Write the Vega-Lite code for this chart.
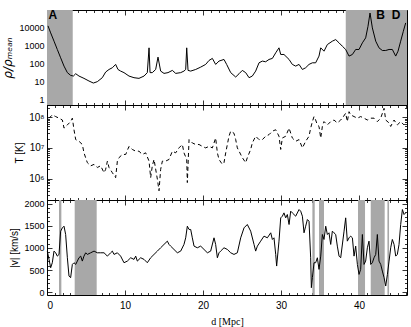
{
  "$schema": "https://vega.github.io/schema/vega-lite/v6.json",
  "background": "white",
  "padding": {"left": 1, "right": 3, "top": 8, "bottom": 4},
  "spacing": 0,
  "bounds": "flush",
  "datasets": {
    "rho": [{"d":0.13,"rho":13000},{"d":0.47,"rho":5300},{"d":0.9,"rho":1820},{"d":1.32,"rho":627},{"d":1.75,"rho":215},{"d":2.18,"rho":74},{"d":2.61,"rho":32},{"d":3.03,"rho":22.5},{"d":3.38,"rho":20.6},{"d":3.68,"rho":27.8},{"d":4.1,"rho":20.6},{"d":4.74,"rho":15.3},{"d":5.38,"rho":10.9},{"d":5.94,"rho":8.4},{"d":6.45,"rho":10},{"d":7.09,"rho":16.7},{"d":7.52,"rho":34.6},{"d":7.95,"rho":48},{"d":8.38,"rho":60},{"d":8.8,"rho":92},{"d":9.1,"rho":48},{"d":9.44,"rho":39},{"d":9.87,"rho":32},{"d":10.51,"rho":20.6},{"d":11.15,"rho":16.7},{"d":11.79,"rho":15.3},{"d":12.44,"rho":20.6},{"d":12.86,"rho":32},{"d":13.08,"rho":774},{"d":13.21,"rho":32},{"d":13.5,"rho":32},{"d":13.93,"rho":48},{"d":14.23,"rho":235},{"d":14.57,"rho":39},{"d":15.0,"rho":29},{"d":15.51,"rho":32},{"d":16.07,"rho":42.6},{"d":16.5,"rho":29},{"d":17.14,"rho":32},{"d":17.56,"rho":39},{"d":17.78,"rho":48},{"d":17.91,"rho":774},{"d":18.08,"rho":42.6},{"d":18.42,"rho":39},{"d":19.06,"rho":48},{"d":19.7,"rho":65},{"d":20.34,"rho":92},{"d":20.77,"rho":153},{"d":21.2,"rho":199},{"d":21.62,"rho":92},{"d":22.05,"rho":141},{"d":22.69,"rho":174},{"d":23.03,"rho":92},{"d":23.55,"rho":32},{"d":24.19,"rho":18.2},{"d":24.62,"rho":27.8},{"d":25.04,"rho":42.6},{"d":25.47,"rho":32},{"d":25.9,"rho":16.7},{"d":26.32,"rho":20.6},{"d":26.75,"rho":39},{"d":27.18,"rho":113},{"d":27.61,"rho":141},{"d":28.03,"rho":129},{"d":28.46,"rho":174},{"d":28.89,"rho":199},{"d":29.32,"rho":408},{"d":29.74,"rho":774},{"d":29.96,"rho":330},{"d":30.38,"rho":330},{"d":31.03,"rho":174},{"d":31.45,"rho":92},{"d":31.88,"rho":74},{"d":32.31,"rho":92},{"d":32.74,"rho":48},{"d":33.16,"rho":60},{"d":33.59,"rho":92},{"d":34.02,"rho":113},{"d":34.44,"rho":113},{"d":34.87,"rho":268},{"d":35.09,"rho":774},{"d":35.51,"rho":504},{"d":35.94,"rho":1180},{"d":36.58,"rho":1820},{"d":37.01,"rho":2240},{"d":37.44,"rho":1470},{"d":37.86,"rho":955},{"d":38.29,"rho":627},{"d":38.72,"rho":268},{"d":39.15,"rho":330},{"d":39.57,"rho":627},{"d":40.0,"rho":627},{"d":40.43,"rho":1470},{"d":40.85,"rho":2780},{"d":41.15,"rho":12300},{"d":41.41,"rho":68000},{"d":41.71,"rho":10000},{"d":42.14,"rho":1820},{"d":42.56,"rho":774},{"d":42.99,"rho":550},{"d":43.42,"rho":550},{"d":43.85,"rho":627},{"d":44.27,"rho":627},{"d":44.7,"rho":268},{"d":45.0,"rho":504},{"d":45.34,"rho":1820},{"d":45.68,"rho":6500},{"d":45.98,"rho":19000}],
    "temp": [{"d":0.26,"T":9.3e7},{"d":0.68,"T":1.19e8},{"d":1.11,"T":1.05e8},{"d":1.54,"T":9.3e7},{"d":1.97,"T":8.1e7},{"d":2.18,"T":4.4e7},{"d":2.61,"T":5.6e7},{"d":3.03,"T":7.2e7},{"d":3.25,"T":9.3e7},{"d":3.46,"T":3.9e7},{"d":3.68,"T":1.86e7},{"d":4.1,"T":1.64e7},{"d":4.53,"T":1.29e7},{"d":4.74,"T":6.9e6},{"d":5.17,"T":3.3e6},{"d":5.6,"T":2.6e6},{"d":6.03,"T":2.9e6},{"d":6.45,"T":2.3e6},{"d":6.88,"T":2.6e6},{"d":7.31,"T":1.55e6},{"d":7.52,"T":2.0e6},{"d":7.74,"T":3.7e6},{"d":7.95,"T":2.3e6},{"d":8.38,"T":1.55e6},{"d":8.8,"T":1.07e6},{"d":9.02,"T":3.7e6},{"d":9.23,"T":4.8e6},{"d":9.66,"T":6.1e6},{"d":10.09,"T":6.1e6},{"d":10.51,"T":1.12e7},{"d":10.94,"T":8.9e6},{"d":11.37,"T":7.8e6},{"d":11.79,"T":7.8e6},{"d":12.22,"T":6.1e6},{"d":12.65,"T":6.9e6},{"d":13.08,"T":3.7e6},{"d":13.29,"T":1.07e6},{"d":13.5,"T":2.6e6},{"d":13.72,"T":4.2e6},{"d":14.15,"T":9.5e5},{"d":14.36,"T":4.0e5},{"d":14.57,"T":2.0e6},{"d":14.79,"T":3.7e6},{"d":15.21,"T":3.7e6},{"d":15.64,"T":4.2e6},{"d":16.07,"T":7.8e6},{"d":16.5,"T":6.9e6},{"d":16.92,"T":1.0e7},{"d":17.35,"T":1.29e7},{"d":17.56,"T":6.9e6},{"d":17.91,"T":4.2e6},{"d":17.99,"T":7.4e5},{"d":18.21,"T":1.86e7},{"d":18.63,"T":1.45e7},{"d":19.06,"T":1.29e7},{"d":19.49,"T":1.29e7},{"d":19.91,"T":1.12e7},{"d":20.34,"T":1.0e7},{"d":20.77,"T":1.12e7},{"d":21.2,"T":1.0e7},{"d":21.62,"T":2.1e7},{"d":21.84,"T":6.9e6},{"d":22.05,"T":4.2e6},{"d":22.48,"T":2.9e6},{"d":22.69,"T":3.3e6},{"d":22.91,"T":6.9e6},{"d":23.12,"T":1.29e7},{"d":23.33,"T":2.4e7},{"d":23.55,"T":3.5e7},{"d":23.97,"T":3.0e7},{"d":24.19,"T":1.86e7},{"d":24.4,"T":1.0e7},{"d":24.62,"T":7.8e6},{"d":25.04,"T":4.8e6},{"d":25.47,"T":3.3e6},{"d":25.68,"T":4.8e6},{"d":26.11,"T":8.9e6},{"d":26.32,"T":1.45e7},{"d":26.75,"T":2.4e7},{"d":27.18,"T":1.86e7},{"d":27.61,"T":1.86e7},{"d":28.03,"T":2.4e7},{"d":28.46,"T":2.7e7},{"d":28.89,"T":3.5e7},{"d":29.32,"T":3.9e7},{"d":29.74,"T":2.4e7},{"d":29.96,"T":8.9e6},{"d":30.17,"T":2.1e7},{"d":30.6,"T":2.4e7},{"d":31.03,"T":4.4e7},{"d":31.45,"T":2.1e7},{"d":31.88,"T":1.64e7},{"d":32.31,"T":1.86e7},{"d":32.74,"T":1.0e7},{"d":33.16,"T":1.64e7},{"d":33.59,"T":2.4e7},{"d":33.8,"T":4.4e7},{"d":34.02,"T":7.2e7},{"d":34.23,"T":1.05e8},{"d":34.44,"T":8.1e7},{"d":34.66,"T":5.6e7},{"d":34.87,"T":5.0e7},{"d":35.09,"T":2.1e7},{"d":35.3,"T":5.0e7},{"d":35.51,"T":7.2e7},{"d":35.94,"T":5.6e7},{"d":36.37,"T":7.2e7},{"d":36.79,"T":8.1e7},{"d":37.22,"T":6.5e7},{"d":37.65,"T":8.1e7},{"d":37.86,"T":9.3e7},{"d":38.29,"T":1.35e8},{"d":38.5,"T":7.2e7},{"d":38.72,"T":1.51e8},{"d":38.93,"T":1.19e8},{"d":39.36,"T":1.05e8},{"d":39.79,"T":9.3e7},{"d":40.21,"T":1.05e8},{"d":40.64,"T":9.3e7},{"d":41.07,"T":8.1e7},{"d":41.5,"T":9.3e7},{"d":41.92,"T":9.3e7},{"d":42.35,"T":7.2e7},{"d":42.78,"T":9.3e7},{"d":43.21,"T":1.95e8},{"d":43.42,"T":8.1e7},{"d":43.85,"T":6.5e7},{"d":44.06,"T":5.0e7},{"d":44.49,"T":8.1e7},{"d":44.91,"T":5.6e7},{"d":45.34,"T":7.2e7},{"d":45.77,"T":5.6e7},{"d":45.98,"T":6.5e7}],
    "vel": [{"d":0.04,"v":929},{"d":0.26,"v":742},{"d":0.47,"v":554},{"d":0.68,"v":667},{"d":0.9,"v":929},{"d":1.11,"v":891},{"d":1.32,"v":816},{"d":1.54,"v":854},{"d":1.75,"v":1378},{"d":1.97,"v":1453},{"d":2.18,"v":1490},{"d":2.39,"v":1303},{"d":2.61,"v":779},{"d":2.82,"v":367},{"d":3.03,"v":330},{"d":3.25,"v":629},{"d":3.46,"v":667},{"d":3.68,"v":629},{"d":3.89,"v":704},{"d":4.1,"v":779},{"d":4.32,"v":816},{"d":4.53,"v":704},{"d":4.74,"v":816},{"d":4.96,"v":891},{"d":5.17,"v":854},{"d":5.6,"v":891},{"d":6.03,"v":929},{"d":6.45,"v":891},{"d":6.88,"v":891},{"d":7.31,"v":891},{"d":7.74,"v":816},{"d":8.16,"v":891},{"d":8.38,"v":929},{"d":8.59,"v":854},{"d":9.02,"v":891},{"d":9.44,"v":816},{"d":9.87,"v":667},{"d":10.3,"v":704},{"d":10.73,"v":779},{"d":11.15,"v":742},{"d":11.37,"v":816},{"d":11.58,"v":704},{"d":12.01,"v":779},{"d":12.44,"v":742},{"d":12.86,"v":667},{"d":13.29,"v":779},{"d":13.72,"v":854},{"d":14.15,"v":929},{"d":14.57,"v":1004},{"d":15.0,"v":1079},{"d":15.43,"v":1153},{"d":15.64,"v":1079},{"d":15.85,"v":1041},{"d":16.28,"v":966},{"d":16.71,"v":891},{"d":17.14,"v":929},{"d":17.56,"v":1079},{"d":17.78,"v":1228},{"d":17.99,"v":1490},{"d":18.21,"v":1416},{"d":18.42,"v":1416},{"d":18.63,"v":1228},{"d":18.85,"v":1041},{"d":19.27,"v":1004},{"d":19.7,"v":1041},{"d":20.13,"v":966},{"d":20.56,"v":891},{"d":20.98,"v":929},{"d":21.41,"v":1228},{"d":21.62,"v":1079},{"d":21.84,"v":779},{"d":22.05,"v":891},{"d":22.26,"v":929},{"d":22.69,"v":1004},{"d":23.12,"v":966},{"d":23.55,"v":891},{"d":23.97,"v":854},{"d":24.4,"v":891},{"d":24.83,"v":1228},{"d":25.26,"v":1453},{"d":25.68,"v":1528},{"d":26.11,"v":1378},{"d":26.54,"v":1079},{"d":26.75,"v":929},{"d":26.97,"v":1041},{"d":27.39,"v":1153},{"d":27.82,"v":1266},{"d":28.25,"v":1228},{"d":28.68,"v":1341},{"d":28.89,"v":1191},{"d":29.1,"v":1228},{"d":29.32,"v":854},{"d":29.44,"v":592},{"d":29.62,"v":929},{"d":29.74,"v":1153},{"d":29.96,"v":1678},{"d":30.17,"v":1715},{"d":30.38,"v":1790},{"d":30.6,"v":1678},{"d":30.81,"v":1753},{"d":31.03,"v":1528},{"d":31.24,"v":1828},{"d":31.45,"v":1790},{"d":31.88,"v":1715},{"d":32.31,"v":1865},{"d":32.52,"v":1828},{"d":32.74,"v":1715},{"d":32.95,"v":1341},{"d":33.16,"v":1490},{"d":33.38,"v":1640},{"d":33.59,"v":1603},{"d":33.8,"v":779},{"d":33.89,"v":105},{"d":34.02,"v":330},{"d":34.23,"v":667},{"d":34.44,"v":667},{"d":34.66,"v":779},{"d":34.87,"v":517},{"d":35.09,"v":816},{"d":35.3,"v":1303},{"d":35.51,"v":1191},{"d":35.73,"v":1490},{"d":35.94,"v":1303},{"d":36.15,"v":1341},{"d":36.37,"v":1079},{"d":36.58,"v":1378},{"d":36.79,"v":1341},{"d":37.01,"v":1303},{"d":37.22,"v":1041},{"d":37.44,"v":816},{"d":37.65,"v":779},{"d":38.08,"v":1378},{"d":38.29,"v":1678},{"d":38.5,"v":1153},{"d":38.72,"v":1228},{"d":38.93,"v":1266},{"d":39.15,"v":1228},{"d":39.36,"v":816},{"d":39.57,"v":1041},{"d":39.79,"v":629},{"d":40.0,"v":404},{"d":40.21,"v":517},{"d":40.43,"v":1303},{"d":40.64,"v":629},{"d":40.85,"v":704},{"d":41.07,"v":1004},{"d":41.28,"v":1153},{"d":41.5,"v":629},{"d":41.71,"v":667},{"d":41.92,"v":779},{"d":42.14,"v":854},{"d":42.35,"v":1303},{"d":42.56,"v":704},{"d":42.78,"v":629},{"d":42.99,"v":479},{"d":43.21,"v":330},{"d":43.42,"v":142},{"d":43.64,"v":404},{"d":43.85,"v":704},{"d":44.06,"v":1004},{"d":44.27,"v":1191},{"d":44.49,"v":1079},{"d":44.7,"v":816},{"d":44.91,"v":854},{"d":45.13,"v":1079},{"d":45.34,"v":1528},{"d":45.56,"v":1865},{"d":45.77,"v":1753},{"d":45.98,"v":1790}],
    "bandsTop": [{"a":0,"b":3.3},{"a":38.3,"b":46.15}],
    "bandsBot": [{"a":1.54,"b":1.84},{"a":3.55,"b":6.37},{"a":34.02,"b":34.32},{"a":34.87,"b":35.51},{"a":39.87,"b":40.77},{"a":41.5,"b":43.29},{"a":43.64,"b":43.85}],
    "labels": [{"d":0.75,"rho":100000,"t":"A"},{"d":42.75,"rho":100000,"t":"B"},{"d":44.75,"rho":100000,"t":"D"}]
  },
  "vconcat": [
    {
      "width": 360, "height": 95,
      "layer": [
        {
          "data": {"name": "bandsTop"},
          "mark": {"type": "rect", "color": "#a8a8a8"},
          "encoding": {
            "x": {"field": "a", "type": "quantitative", "scale": {"domain": [0, 46.15], "nice": false, "zero": false},
                  "axis": {"orient": "bottom", "values": [0,1,2,3,4,5,6,7,8,9,10,11,12,13,14,15,16,17,18,19,20,21,22,23,24,25,26,27,28,29,30,31,32,33,34,35,36,37,38,39,40,41,42,43,44,45,46], "labels": false, "title": null, "tickSize": {"condition": {"test": "datum.value % 10 === 0", "value": -5}, "value": -2.5}}},
            "x2": {"field": "b"}
          }
        },
        {
          "data": {"name": "rho"},
          "mark": {"type": "line", "color": "black", "strokeWidth": 1},
          "encoding": {
            "x": {"field": "d", "type": "quantitative", "axis": null},
            "y": {"field": "rho", "type": "quantitative", "scale": {"type": "log", "domain": [0.5, 100000], "nice": false},
                  "axis": {"orient": "left", "title": "ρ/ρₘₑₐₙ", "titleFontStyle": "italic", "titleFontSize": 12, "titleFont": "DejaVu Sans", "labelPadding": 8, "values": [0.5,0.6,0.7,0.8,0.9,1,2,3,4,5,6,7,8,9,10,20,30,40,50,60,70,80,90,100,200,300,400,500,600,700,800,900,1000,2000,3000,4000,5000,6000,7000,8000,9000,10000,20000,30000,40000,50000,60000,70000,80000,90000,100000],
                           "labelExpr": "indexof([1,10,100,1000,10000], datum.value) >= 0 ? format(datum.value, 'd') : ''",
                           "tickSize": {"condition": {"test": "indexof([1,10,100,1000,10000,100000], datum.value) >= 0", "value": -5}, "value": -2.5}}}
          }
        },
        {
          "data": {"name": "labels"},
          "mark": {"type": "text", "font": "Liberation Sans", "fontWeight": "bold", "fontSize": 12, "baseline": "top", "align": "center", "color": "black"},
          "encoding": {
            "x": {"field": "d", "type": "quantitative",
                  "axis": {"orient": "top", "values": [0,1,2,3,4,5,6,7,8,9,10,11,12,13,14,15,16,17,18,19,20,21,22,23,24,25,26,27,28,29,30,31,32,33,34,35,36,37,38,39,40,41,42,43,44,45,46], "labels": false, "title": null, "tickSize": {"condition": {"test": "datum.value % 10 === 0", "value": -5}, "value": -2.5}}},
            "y": {"field": "rho", "type": "quantitative",
                  "axis": {"orient": "right", "title": null, "labels": false, "values": [0.5,0.6,0.7,0.8,0.9,1,2,3,4,5,6,7,8,9,10,20,30,40,50,60,70,80,90,100,200,300,400,500,600,700,800,900,1000,2000,3000,4000,5000,6000,7000,8000,9000,10000,20000,30000,40000,50000,60000,70000,80000,90000,100000],
                           "tickSize": {"condition": {"test": "indexof([1,10,100,1000,10000,100000], datum.value) >= 0", "value": -5}, "value": -2.5}}},
            "text": {"field": "t"}
          }
        }
      ],
      "resolve": {"axis": {"x": "independent", "y": "independent"}}
    },
    {
      "width": 360, "height": 95,
      "layer": [
        {
          "data": {"name": "temp"},
          "mark": {"type": "line", "color": "black", "strokeWidth": 1, "strokeDash": [4, 3]},
          "encoding": {
            "x": {"field": "d", "type": "quantitative", "scale": {"domain": [0, 46.15], "nice": false, "zero": false},
                  "axis": {"orient": "bottom", "values": [0,1,2,3,4,5,6,7,8,9,10,11,12,13,14,15,16,17,18,19,20,21,22,23,24,25,26,27,28,29,30,31,32,33,34,35,36,37,38,39,40,41,42,43,44,45,46], "labels": false, "title": null, "tickSize": {"condition": {"test": "datum.value % 10 === 0", "value": -5}, "value": -2.5}}},
            "y": {"field": "T", "type": "quantitative", "scale": {"type": "log", "domain": [200000, 250000000], "nice": false},
                  "axis": {"orient": "left", "title": "T [K]", "labelPadding": 8, "labelFontSize": 10, "values": [200000,300000,400000,500000,600000,700000,800000,900000,1000000,2000000,3000000,4000000,5000000,6000000,7000000,8000000,9000000,10000000,20000000,30000000,40000000,50000000,60000000,70000000,80000000,90000000,100000000,200000000],
                           "labelExpr": "datum.value === 1000000 ? '10⁶' : datum.value === 10000000 ? '10⁷' : datum.value === 100000000 ? '10⁸' : ''",
                           "tickSize": {"condition": {"test": "indexof([1000000,10000000,100000000], datum.value) >= 0", "value": -5}, "value": -2.5}}}
          }
        },
        {
          "data": {"name": "temp"},
          "mark": {"type": "point", "opacity": 0},
          "encoding": {
            "x": {"field": "d", "type": "quantitative",
                  "axis": {"orient": "top", "values": [0,1,2,3,4,5,6,7,8,9,10,11,12,13,14,15,16,17,18,19,20,21,22,23,24,25,26,27,28,29,30,31,32,33,34,35,36,37,38,39,40,41,42,43,44,45,46], "labels": false, "title": null, "tickSize": {"condition": {"test": "datum.value % 10 === 0", "value": -5}, "value": -2.5}}},
            "y": {"field": "T", "type": "quantitative",
                  "axis": {"orient": "right", "title": null, "labels": false, "values": [200000,300000,400000,500000,600000,700000,800000,900000,1000000,2000000,3000000,4000000,5000000,6000000,7000000,8000000,9000000,10000000,20000000,30000000,40000000,50000000,60000000,70000000,80000000,90000000,100000000,200000000],
                           "tickSize": {"condition": {"test": "indexof([1000000,10000000,100000000], datum.value) >= 0", "value": -5}, "value": -2.5}}}
          }
        }
      ],
      "resolve": {"axis": {"x": "independent", "y": "independent"}}
    },
    {
      "width": 360, "height": 95,
      "layer": [
        {
          "data": {"name": "bandsBot"},
          "mark": {"type": "rect", "color": "#a8a8a8"},
          "encoding": {
            "x": {"field": "a", "type": "quantitative", "scale": {"domain": [0, 46.15], "nice": false, "zero": false},
                  "axis": {"orient": "bottom", "values": [0,1,2,3,4,5,6,7,8,9,10,11,12,13,14,15,16,17,18,19,20,21,22,23,24,25,26,27,28,29,30,31,32,33,34,35,36,37,38,39,40,41,42,43,44,45,46], "title": "d [Mpc]", "titleFont": "Liberation Serif", "titlePadding": 6, "labelPadding": 10, "labelFontSize": 10,
                           "labelExpr": "datum.value % 10 === 0 ? format(datum.value, 'd') : ''",
                           "tickSize": {"condition": {"test": "datum.value % 10 === 0", "value": -5}, "value": -2.5}}},
            "x2": {"field": "b"}
          }
        },
        {
          "data": {"name": "vel"},
          "mark": {"type": "line", "color": "black", "strokeWidth": 1},
          "encoding": {
            "x": {"field": "d", "type": "quantitative", "axis": null},
            "y": {"field": "v", "type": "quantitative", "scale": {"domain": [-60, 2080], "nice": false, "zero": false},
                  "axis": {"orient": "left", "title": "|v| [km/s]", "labelPadding": 8, "values": [0,100,200,300,400,500,600,700,800,900,1000,1100,1200,1300,1400,1500,1600,1700,1800,1900,2000],
                           "labelExpr": "datum.value % 500 === 0 ? format(datum.value, 'd') : ''",
                           "tickSize": {"condition": {"test": "datum.value % 500 === 0", "value": -5}, "value": -2.5}}}
          }
        },
        {
          "data": {"name": "vel"},
          "mark": {"type": "point", "opacity": 0},
          "encoding": {
            "x": {"field": "d", "type": "quantitative",
                  "axis": {"orient": "top", "values": [0,1,2,3,4,5,6,7,8,9,10,11,12,13,14,15,16,17,18,19,20,21,22,23,24,25,26,27,28,29,30,31,32,33,34,35,36,37,38,39,40,41,42,43,44,45,46], "labels": false, "title": null, "tickSize": {"condition": {"test": "datum.value % 10 === 0", "value": -5}, "value": -2.5}}},
            "y": {"field": "v", "type": "quantitative",
                  "axis": {"orient": "right", "title": null, "labels": false, "values": [0,100,200,300,400,500,600,700,800,900,1000,1100,1200,1300,1400,1500,1600,1700,1800,1900,2000],
                           "tickSize": {"condition": {"test": "datum.value % 500 === 0", "value": -5}, "value": -2.5}}}
          }
        }
      ],
      "resolve": {"axis": {"x": "independent", "y": "independent"}}
    }
  ],
  "config": {
    "view": {"stroke": "black", "strokeWidth": 1},
    "axis": {"grid": false, "domain": false, "tickColor": "black", "tickWidth": 0.8, "labelFont": "Liberation Sans", "labelFontSize": 9, "labelColor": "black", "labelPadding": 3, "titleFont": "Liberation Sans", "titleFontSize": 10, "titleFontWeight": "normal", "titleColor": "black", "titlePadding": 4}
  }
}
